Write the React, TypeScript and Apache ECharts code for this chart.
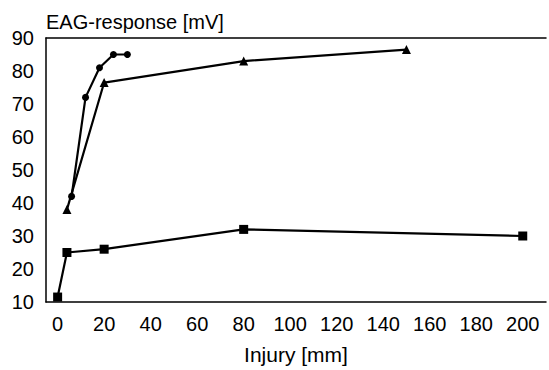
import React, { useEffect, useRef } from "react";
import * as echarts from "echarts";

const circleX = [6, 12, 18, 24, 30];
const circleY = [42, 72, 81, 85, 85];
const triangleX = [4, 20, 80, 150];
const triangleY = [38, 76.5, 83, 86.5];
const squareX = [0, 4, 20, 80, 200];
const squareY = [11.5, 25, 26, 32, 30];

const zip = (xs: number[], ys: number[]) => xs.map((x, i) => [x, ys[i]]);

const FONT = "Liberation Sans, Arial, Helvetica, sans-serif";

export default function App() {
  const ref = useRef<HTMLDivElement>(null);
  useEffect(() => {
    if (!ref.current) return;
    const chart = echarts.init(ref.current, null, { renderer: "svg" });
    const lineStyle = { color: "#000", width: 2.2 };
    const itemStyle = { color: "#000" };
    chart.setOption({
      animation: false,
      backgroundColor: "#fff",
      textStyle: { fontFamily: FONT },
      title: {
        text: "EAG-response [mV]",
        left: 46,
        top: 12,
        padding: 0,
        textStyle: { fontFamily: FONT, fontSize: 20, fontWeight: "normal", color: "#000" },
      },
      grid: { left: 46, right: 0, top: 38, bottom: 62, containLabel: false },
      xAxis: [
        {
          type: "value",
          min: -5,
          max: 210,
          splitNumber: 10,
          name: "Injury [mm]",
          nameLocation: "middle",
          nameGap: 42,
          nameTextStyle: { fontFamily: FONT, fontSize: 21, color: "#000" },
          axisLine: { show: true, lineStyle: { color: "#000", width: 1.5 } },
          axisTick: { show: false },
          splitLine: { show: false },
          axisLabel: {
            fontFamily: FONT,
            fontSize: 20,
            color: "#000",
            margin: 12,
            formatter: (v: number) => (v % 20 === 0 ? String(v) : ""),
          },
        },
        {
          type: "value",
          position: "top",
          min: -5,
          max: 210,
          axisLine: { show: true, onZero: false, lineStyle: { color: "#000", width: 1.5 } },
          axisTick: { show: false },
          axisLabel: { show: false },
          splitLine: { show: false },
        },
      ],
      yAxis: {
        type: "value",
        min: 10,
        max: 90,
        interval: 10,
        axisLine: { show: true, onZero: false, lineStyle: { color: "#000", width: 1.5 } },
        axisTick: { show: false },
        splitLine: { show: false },
        axisLabel: { fontFamily: FONT, fontSize: 20, color: "#000", margin: 12 },
      },
      series: [
        {
          type: "line",
          data: zip(circleX, circleY),
          symbol: "circle",
          symbolSize: 7,
          lineStyle,
          itemStyle,
        },
        {
          type: "line",
          data: zip(triangleX, triangleY),
          symbol: "triangle",
          symbolSize: 9,
          lineStyle,
          itemStyle,
        },
        {
          type: "line",
          data: zip(squareX, squareY),
          symbol: "rect",
          symbolSize: 9,
          lineStyle,
          itemStyle,
        },
      ],
    });
    return () => chart.dispose();
  }, []);
  return (
    <div
      ref={ref}
      style={{ position: "fixed", left: 0, top: 0, width: 549, height: 370 }}
    />
  );
}
